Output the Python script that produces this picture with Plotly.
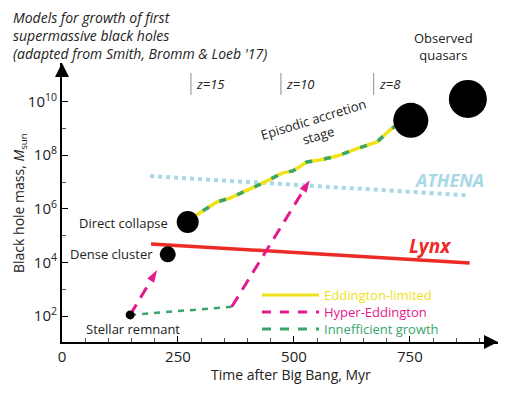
import plotly.graph_objects as go

# ---------------- data ----------------
seed_names = ["Stellar remnant", "Dense cluster", "Direct collapse"]
seed_time = [147, 228, 271]
seed_mass = [1.1e2, 2.0e4, 3.2e5]
seed_size = [9, 16, 22]

quasar_time = [752, 875]
quasar_mass = [2.0e9, 1.26e10]
quasar_size = [35, 38]

eddington_time = [271, 290, 334, 362, 433, 476, 498, 528, 556, 593, 642, 679, 707, 728, 752]
eddington_mass = [3.2e5, 5.9e5, 1.8e6, 2.5e6, 9.1e6, 2.2e7, 2.6e7, 5.6e7, 6.6e7, 9.3e7,
                  1.9e8, 3.1e8, 8.7e8, 1.6e9, 2.0e9]

hyper1_time = [147, 205]
hyper1_mass = [1.1e2, 5.2e3]
hyper2_time = [366, 534]
hyper2_mass = [2.2e2, 1.17e7]

ineff_time = [147, 366]
ineff_mass = [1.1e2, 2.2e2]

athena_time = [190, 875]
athena_mass = [1.66e7, 3.2e6]

lynx_time = [192, 879]
lynx_mass = [4.9e4, 9.5e3]

z_labels = ["z=15", "z=10", "z=8"]
z_time = [278, 472, 672]

x_tickvals = [0, 250, 500, 750]
y_tickvals = [1e2, 1e4, 1e6, 1e8, 1e10]
y_ticktext = ["10<sup>2</sup>", "10<sup>4</sup>", "10<sup>6</sup>", "10<sup>8</sup>", "10<sup>10</sup>"]

# ---------------- colours ----------------
YELLOW = "#f0e21a"
GREEN = "#37a56c"
MAGENTA = "#e5198b"
LBLUE = "#a6d8e6"
RED = "#ec2a26"
TXT = "#222222"
FONT = "Open Sans"

fig = go.Figure()

# z markers
for t in z_time:
    fig.add_trace(go.Scatter(x=[t, t], y=[10**10.25, 10**11.07], mode="lines",
                             line=dict(color="#8a8a8a", width=1), hoverinfo="skip"))

# ATHENA
fig.add_trace(go.Scatter(x=athena_time, y=athena_mass, mode="lines",
                         line=dict(color=LBLUE, width=4, dash="dot")))
# Lynx
fig.add_trace(go.Scatter(x=lynx_time, y=lynx_mass, mode="lines",
                         line=dict(color=RED, width=3.5)))
# inefficient growth
fig.add_trace(go.Scatter(x=ineff_time, y=ineff_mass, mode="lines",
                         line=dict(color=GREEN, width=2.5, dash="6px,6px")))
# Eddington-limited (yellow with green dashes)
fig.add_trace(go.Scatter(x=eddington_time, y=eddington_mass, mode="lines",
                         line=dict(color=YELLOW, width=3.5)))
fig.add_trace(go.Scatter(x=eddington_time, y=eddington_mass, mode="lines",
                         line=dict(color=GREEN, width=3.5, dash="7px,12px")))
# Hyper-Eddington arrows
for tx, my in [(hyper1_time, hyper1_mass), (hyper2_time, hyper2_mass)]:
    fig.add_trace(go.Scatter(x=tx, y=my, mode="lines+markers",
                             line=dict(color=MAGENTA, width=3, dash="12px,8px"),
                             marker=dict(symbol=["circle", "arrow"], size=[0, 13],
                                         angleref="previous", color=MAGENTA, opacity=1,
                                         line=dict(width=0))))
# seeds & quasars
fig.add_trace(go.Scatter(x=seed_time, y=seed_mass, mode="markers",
                         marker=dict(color="#000000", size=seed_size, opacity=1,
                                     line=dict(width=0, color="#000000"))))
fig.add_trace(go.Scatter(x=quasar_time, y=quasar_mass, mode="markers",
                         marker=dict(color="#000000", size=quasar_size, opacity=1,
                                     line=dict(width=0, color="#000000"))))

# ---------------- layout ----------------
# the page body has an 8px margin, so the figure is 8px smaller and coordinates below
# are given in page pixels and converted.
OFF = 8
W, H = 512 - OFF, 398 - OFF
L, T = 62 - OFF, 63 - OFF
R = W - (498 - OFF)
B = H - (342 - OFF)
pw, ph = W - L - R, H - T - B


def px(xp):
    return (xp - OFF - L) / pw


def py(yp):
    return (H - B - (yp - OFF)) / ph


def label(xp, yp, text, size=13, color=TXT, xanchor="center", **kw):
    return dict(x=px(xp), y=py(yp), xref="paper", yref="paper", showarrow=False,
                xanchor=xanchor, yanchor="middle", text=text,
                font=dict(family=FONT, size=size, color=color), **kw)


ann = []
# axis arrowheads
ann.append(dict(x=1, y=0, xref="paper", yref="paper", ax=-14, ay=0, showarrow=True,
                arrowhead=2, arrowsize=1.4, arrowwidth=2, arrowcolor="black", text=""))
ann.append(dict(x=0, y=1, xref="paper", yref="paper", ax=0, ay=14, showarrow=True,
                arrowhead=2, arrowsize=1.4, arrowwidth=2, arrowcolor="black", text=""))

# title
title_lines = ["Models for growth of first", "supermassive black holes",
               "(adapted from Smith, Bromm & Loeb '17)"]
for i, s in enumerate(title_lines):
    ann.append(label(11, 18 + i * 17.5, "<i>" + s + "</i>", size=14, xanchor="left"))

# seed labels
ann.append(label(133, 329, seed_names[0]))
ann.append(label(155, 254, seed_names[1], xanchor="right"))
ann.append(label(170, 223, seed_names[2], xanchor="right"))
ann.append(label(443, 47, "Observed<br>quasars"))
ann.append(label(315, 127, "Episodic accretion<br>stage", textangle=-17))

# telescope labels
ann.append(label(449, 180, "<b><i>ATHENA</i></b>", size=18, color=LBLUE))
ann.append(label(430, 246, "<b><i>Lynx</i></b>", size=19, color=RED))

# z labels
for lab, t in zip(z_labels, z_time):
    ann.append(dict(x=t, y=10.66, xref="x", yref="y", xanchor="left", yanchor="middle",
                    xshift=3, showarrow=False, text="<i>" + lab + "</i>",
                    font=dict(family=FONT, size=13, color=TXT)))

# axis titles
ann.append(label(291, 375, "Time after Big Bang, Myr", size=14))
ann.append(label(19, 203, "Black hole mass, <i>M</i><sub>sun</sub>", size=14, textangle=-90))

# legend
shapes = []
legend = [("Eddington-limited", YELLOW, "solid", 295),
          ("Hyper-Eddington", MAGENTA, "dash", 312),
          ("Innefficient growth", GREEN, "dash", 329)]
for name, col, dash, yy in legend:
    shapes.append(dict(type="line", xref="paper", yref="paper", x0=px(262), x1=px(319),
                       y0=py(yy), y1=py(yy), line=dict(color=col, width=3, dash=dash)))
    ann.append(label(322, yy, name, color=col, xanchor="left"))

fig.update_layout(
    width=W, height=H, margin=dict(l=L, r=R, t=T, b=B, autoexpand=False),
    plot_bgcolor="white", paper_bgcolor="white", showlegend=False,
    annotations=ann, shapes=shapes,
    xaxis=dict(range=[0, 940], showline=True, linecolor="black", linewidth=2,
               automargin=False,
               ticks="inside", ticklen=6, tickwidth=1, tickcolor="black",
               tickvals=x_tickvals, showgrid=False, zeroline=False,
               minor=dict(ticks="inside", dtick=50, tick0=0, ticklen=4, tickcolor="#555", showgrid=False),
               tickfont=dict(family=FONT, size=15, color=TXT)),
    yaxis=dict(type="log", range=[1.03, 11.44], showline=True, linecolor="black", linewidth=2,
               automargin=False,
               ticks="inside", ticklen=6, tickwidth=1, tickcolor="black",
               tickvals=y_tickvals, ticktext=y_ticktext, showgrid=False, zeroline=False,
               minor=dict(ticks="inside", tickvals=[1e3, 1e5, 1e7, 1e9], ticklen=4,
                          tickcolor="#555", showgrid=False),
               tickfont=dict(family=FONT, size=15, color=TXT)),
)

fig.write_html("out.html")
